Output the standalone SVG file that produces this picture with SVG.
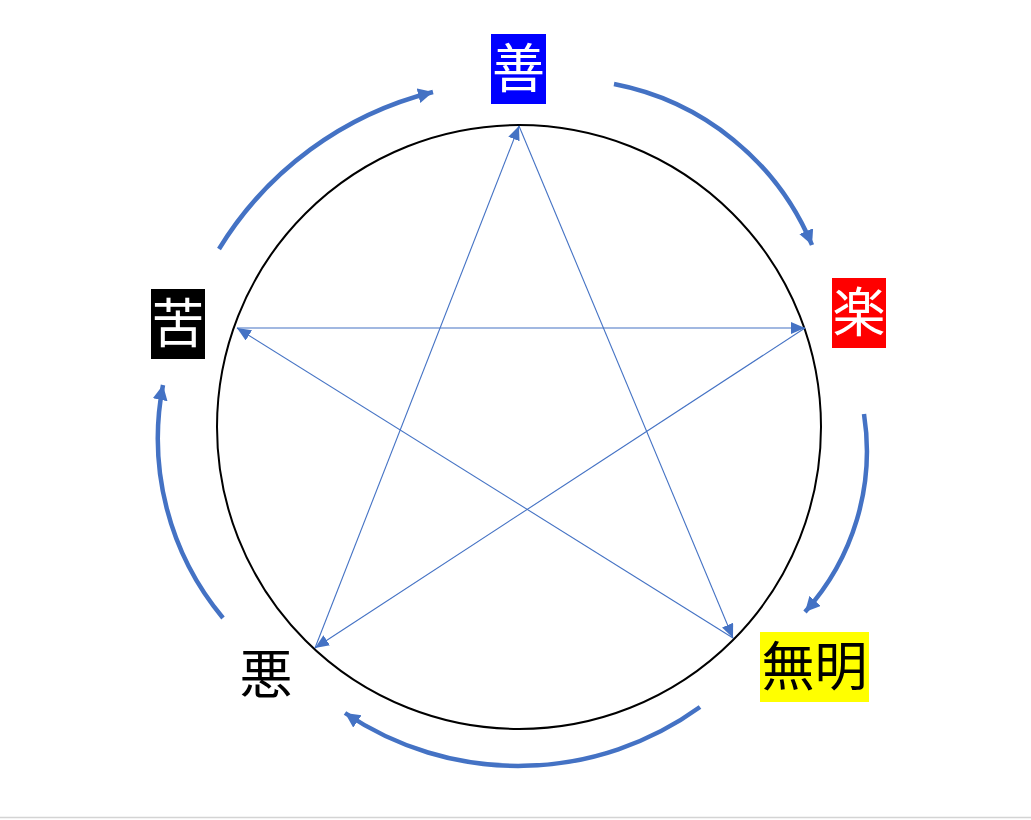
<svg xmlns="http://www.w3.org/2000/svg" width="1031" height="820" viewBox="0 0 1031 820">
<style>
.lbl{font-family:"Noto Sans CJK JP","Noto Sans CJK SC",sans-serif;font-size:53px;text-anchor:middle}
.star{fill:none;stroke:#4472C4;stroke-width:1.1;marker-end:url(#sh)}
.cyc{fill:none;stroke:#4472C4;stroke-width:4.5;marker-end:url(#ch)}
</style>
<defs>
<marker id="sh" markerUnits="userSpaceOnUse" markerWidth="16" markerHeight="14" refX="14" refY="6" orient="auto">
<path d="M0,0 L14,6 L0,12 Z" fill="#4472C4"/>
</marker>
<marker id="ch" markerUnits="userSpaceOnUse" markerWidth="18" markerHeight="18" refX="15" refY="7.5" orient="auto">
<path d="M0,0 L15,7.5 L0,15 Z" fill="#4472C4"/>
</marker>
</defs>
<rect width="1031" height="820" fill="#ffffff"/>
<line x1="0" y1="817.5" x2="1031" y2="817.5" stroke="#d4d4d4" stroke-width="1.5"/>
<circle cx="519" cy="427" r="302" fill="none" stroke="#000" stroke-width="2"/>
<g id="connectors">
<path class="star" d="M519,126 L733,638"/>
<path class="star" d="M733,638 L237,328"/>
<path class="star" d="M237,328 L805,328"/>
<path class="star" d="M805,328 L315,648"/>
<path class="star" d="M315,648 L519,126"/>
<path class="cyc" d="M219,249 A350,350 0 0 1 433,92"/>
<path class="cyc" d="M614,84 A270,270 0 0 1 812,245"/>
<path class="cyc" d="M864,414 A240,240 0 0 1 805,612"/>
<path class="cyc" d="M700,707 A310,310 0 0 1 345,713"/>
<path class="cyc" d="M223,618 A280,280 0 0 1 163,385"/>
</g>
<g id="zen">
<rect x="491" y="34" width="55" height="70" fill="#0000FF"/>
<text class="lbl" x="518.5" y="88" fill="#ffffff">善</text>
</g>
<g id="raku">
<rect x="832" y="278" width="54" height="70" fill="#FF0000"/>
<text class="lbl" x="859" y="332" fill="#ffffff">楽</text>
</g>
<g id="mumyo">
<rect x="760" y="632" width="109" height="70" fill="#FFFF00"/>
<text class="lbl" x="814.5" y="686" fill="#000000">無明</text>
</g>
<g id="aku">
<text class="lbl" x="266" y="694" fill="#000000">悪</text>
</g>
<g id="ku">
<rect x="151" y="289" width="54" height="70" fill="#000000"/>
<text class="lbl" x="178" y="343" fill="#ffffff">苦</text>
</g>
</svg>
